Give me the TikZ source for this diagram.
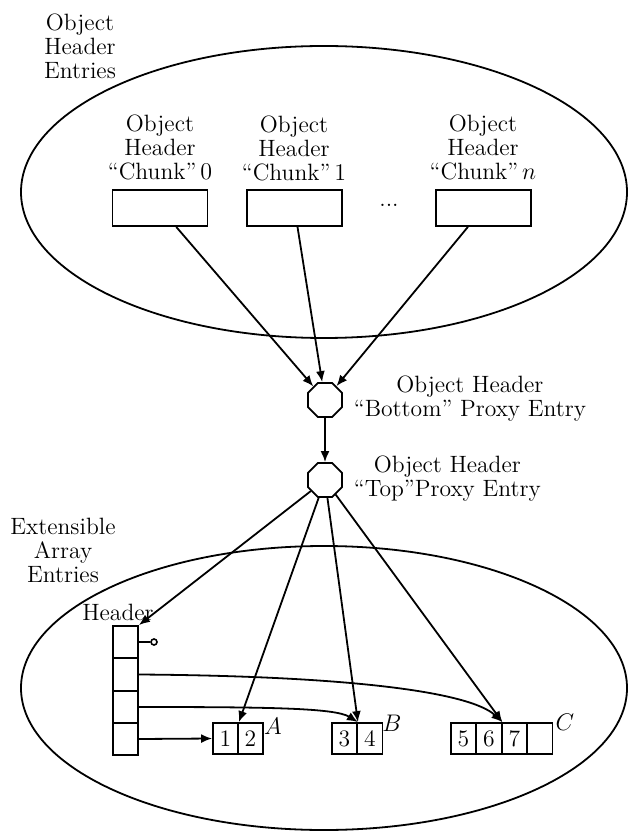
\documentclass[tikz,border=0pt]{standalone}
\usetikzlibrary{shapes.geometric,arrows.meta}
\begin{document}
\begin{tikzpicture}[x=0.5pt,y=-0.5pt,
  line width=0.9pt,
  every node/.style={font=\fontsize{11.8}{12}\selectfont},
  txt/.style={align=center,inner sep=0pt},
  chunk/.style={draw,minimum width=47.5pt,minimum height=18pt,inner sep=0pt},
  hcell/.style={draw,minimum width=12.5pt,minimum height=16pt,inner sep=0pt},
  acell/.style={draw,minimum width=12.5pt,minimum height=15.5pt,inner sep=0pt},
  oct/.style={draw,regular polygon,regular polygon sides=8,minimum size=18.4pt,inner sep=0pt},
  arr/.style={-{Latex[length=5.5pt,width=4.5pt]}}]
\useasboundingbox (0,0) rectangle (628,833);
% ellipses
\draw (324,192) ellipse [x radius=151.5pt, y radius=73pt];
\draw (324,688) ellipse [x radius=151.5pt, y radius=71pt];
% labels
\node[txt] (ohe) at (80,46) {Object\\Header\\Entries};
\node[txt] (eae) at (63,550) {Extensible\\Array\\Entries};
\node[txt] (l0) at (160,147) {Object\\Header\\``Chunk''\,$0$};
\node[txt] (l1) at (294,148) {Object\\Header\\``Chunk''\,$1$};
\node[txt] (ln) at (483,147) {Object\\Header\\``Chunk''\,$n$};
% chunk boxes
\node[chunk] (c0) at (160,208) {};
\node[chunk] (c1) at (294.5,208) {};
\node[chunk] (cn) at (483.5,208) {};
\node[txt] (dots) at (389,205) {...};
% octagons
\node[oct] (boct) at (325,400) {};
\node[oct] (toct) at (325,480) {};
\node[txt,anchor=west] (bl) at (353,399) {Object Header\\``Bottom'' Proxy Entry};
\node[txt,anchor=west] (tl) at (353,479) {Object Header\\``Top''Proxy Entry};
% header cells
\node[txt] (hl) at (118,612) {Header};
\node[hcell] (h1) at (125.5,642) {};
\node[hcell] (h2) at (125.5,674.5) {};
\node[hcell] (h3) at (125.5,707) {};
\node[hcell] (h4) at (125.5,739) {};
\node[circle,draw,minimum size=3pt,inner sep=0pt,line width=0.8pt] (nil) at (154,642) {};
% arrays
\node[acell] (a1) at (225.5,738.5) {1};
\node[acell] (a2) at (250.5,738.5) {2};
\node[acell] (b1) at (344.5,738.5) {3};
\node[acell] (b2) at (370,738.5) {4};
\node[acell] (x1) at (463.5,738.5) {5};
\node[acell] (x2) at (489,738.5) {6};
\node[acell] (x3) at (514.5,738.5) {7};
\node[acell] (x4) at (540,738.5) {};
\node[txt] (la) at (273,726) {$A$};
\node[txt] (lb) at (392,723) {$B$};
\node[txt] (lc) at (565,722) {$C$};
% connectors
\draw[arr] (c0) -- (boct);
\draw[arr] (c1) -- (boct);
\draw[arr] (cn) -- (boct);
\draw[arr] (boct) -- (toct);
\draw[arr] (toct) -- (h1.north east);
\draw[arr] (toct) -- (a1.north east);
\draw[arr] (toct) -- (b1.north east);
\draw[arr] (toct) -- (x2.north east);
\draw (h1.east) -- (nil);
\draw[arr] (h2.east) .. controls (350,676) and (470,692) .. (x2.north east);
\draw[arr] (h3.east) .. controls (270,707) and (335,708) .. (b1.north east);
\draw[arr] (h4.east) -- (a1.west);
\end{tikzpicture}
\end{document}
